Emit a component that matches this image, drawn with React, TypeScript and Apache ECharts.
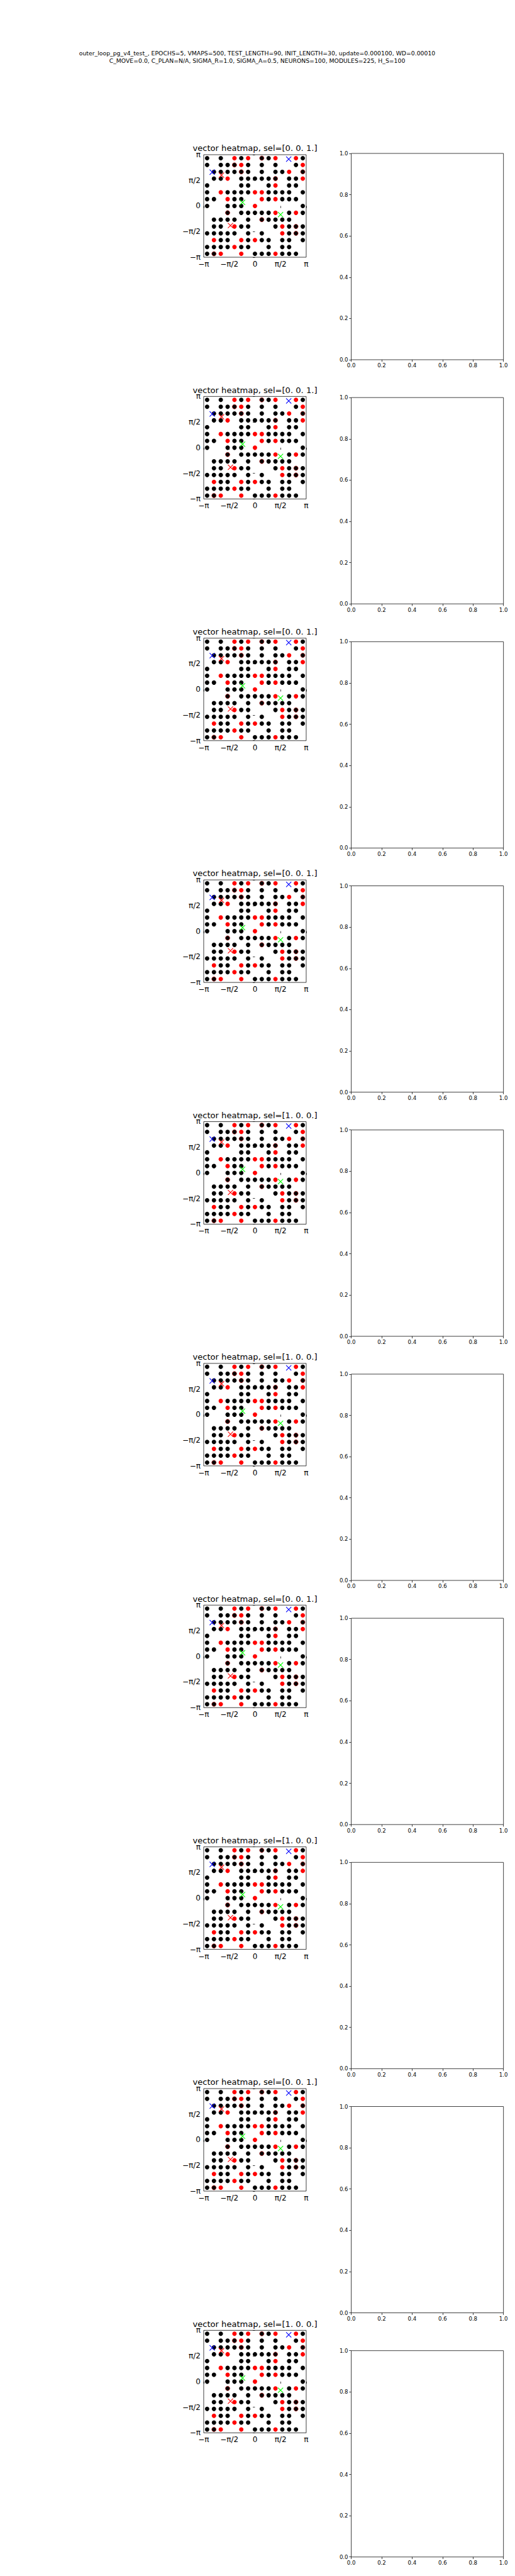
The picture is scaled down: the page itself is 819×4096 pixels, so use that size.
import React, { useEffect, useRef } from "react";
import * as echarts from "echarts";

// ---------- data ----------
const SUPTITLE_LINES = [
  "outer_loop_pg_v4_test_, EPOCHS=5, VMAPS=500, TEST_LENGTH=90, INIT_LENGTH=30, update=0.000100, WD=0.00010",
  "C_MOVE=0.0, C_PLAN=N/A, SIGMA_R=1.0, SIGMA_A=0.5, NEURONS=100, MODULES=225, H_S=100",
];

const SEL_LABELS = [
  "[0. 0. 1.]", "[0. 0. 1.]", "[0. 0. 1.]", "[0. 0. 1.]", "[1. 0. 0.]",
  "[1. 0. 0.]", "[0. 0. 1.]", "[1. 0. 0.]", "[0. 0. 1.]", "[1. 0. 0.]",
];

// 15x15 module grid, rows from top (y = +pi) to bottom (y = -pi), columns from x = -pi to +pi.
// K = black dot, R = red dot, D = black dot over red, . = empty
const GRID_ROWS = [
  "K.K.RKR.DKR..RK",
  "K.KKDRK.K.K..KR",
  ".KKKKDK.K.KKR.D",
  ".KKR.KKKKKD.KKR",
  "K....KK..KR.KK.",
  "K.RKKKKRRKKKK.K",
  "KK.RKK..RKRKKK.",
  "K..KKK.R......K",
  "...D.KKKKKR.KRK",
  ".KKKK.K.DKKKK..",
  ".KK.RKK...KRKDK",
  "KKKKK.K.K..RKDK",
  ".RKK.RKRKK.KK.K",
  "KKKKRKK..K.KK..",
  "KDR..R.KKKRKKK.",
];

const BLUE_X = [[2.07, 2.87], [-2.62, 2.07]];
const RED_X = [[-2.05, 1.89], [-1.5, -1.2]];
const GREEN_X = [[-0.76, 0.22], [1.57, -0.53]];

const PI_TICK_LABELS = ["\u2212\u03c0", "\u2212\u03c0/2", "0", "\u03c0/2", "\u03c0"];
const UNIT_TICK_LABELS = ["0.0", "0.2", "0.4", "0.6", "0.8", "1.0"];

// ---------- layout ----------
const S = 0.682;
const FONT = "DejaVu Sans";
const L_X = 475 * S;
const L_SIZE = 239 * S;
const L_TOP0 = 360.7 * S;
const L_STEP = 563.6 * S;
const R_X = 819 * S;
const R_W = 355 * S;
const R_TOP0 = 357.7 * S;
const R_H = 481 * S;
const R_STEP = 569.2 * S;
const N = 15;

function cellPoints(kind: string): number[][] {
  const pts: number[][] = [];
  const w = (2 * Math.PI) / N;
  GRID_ROWS.forEach((row, r) => {
    for (let c = 0; c < row.length; c++) {
      if (row[c] === kind) {
        pts.push([-Math.PI + (c + 0.5) * w, Math.PI - (r + 0.5) * w]);
      }
    }
  });
  return pts;
}

function buildOption() {
  const grids: any[] = [];
  const xAxes: any[] = [];
  const yAxes: any[] = [];
  const series: any[] = [];
  const graphics: any[] = [];

  const black = cellPoints("K");
  const dark = cellPoints("D");
  const red = cellPoints("R");

  const tickCommon = { show: true, length: 3.3, inside: false, lineStyle: { color: "#000", width: 0.75 } };
  const piLabel = (fs: number) => ({
    show: true,
    color: "#000",
    fontSize: fs,
    fontFamily: FONT,
    margin: 5,
    formatter: (v: number) => {
      const k = Math.round(v / (Math.PI / 2)) + 2;
      return PI_TICK_LABELS[k] ?? "";
    },
  });
  const unitLabel = {
    show: true,
    color: "#000",
    fontSize: 8.6,
    fontFamily: FONT,
    margin: 5,
    formatter: (v: number) => {
      const k = Math.round(v / 0.2);
      return UNIT_TICK_LABELS[k] ?? "";
    },
  };

  graphics.push({
    type: "text",
    x: 409,
    y: 90.5,
    style: {
      text: SUPTITLE_LINES.join("\n"),
      fontSize: 9.3,
      fontFamily: FONT,
      fill: "#000",
      align: "center",
      verticalAlign: "middle",
      textAlign: "center",
      textVerticalAlign: "middle",
      lineHeight: 11.2,
    },
  });

  for (let i = 0; i < SEL_LABELS.length; i++) {
    const lTop = L_TOP0 + i * L_STEP;
    const rTop = R_TOP0 + i * R_STEP;
    const gl = grids.length;
    grids.push({
      left: L_X, top: lTop, width: L_SIZE, height: L_SIZE,
      show: true, borderColor: "#000", borderWidth: 0.75, backgroundColor: "#fff",
      containLabel: false, outerBoundsMode: "none",
    });
    grids.push({
      left: R_X, top: rTop, width: R_W, height: R_H,
      show: true, borderColor: "#000", borderWidth: 0.75, backgroundColor: "#fff",
      containLabel: false, outerBoundsMode: "none",
    });
    // left axes
    xAxes.push({
      type: "value", gridIndex: gl, min: -Math.PI, max: Math.PI, interval: Math.PI / 2,
      axisLine: { show: false }, axisTick: tickCommon, splitLine: { show: false },
      axisLabel: piLabel(12),
    });
    yAxes.push({
      type: "value", gridIndex: gl, min: -Math.PI, max: Math.PI, interval: Math.PI / 2,
      axisLine: { show: false }, axisTick: tickCommon, splitLine: { show: false },
      axisLabel: piLabel(12),
    });
    // right axes
    xAxes.push({
      type: "value", gridIndex: gl + 1, min: 0, max: 1, interval: 0.2,
      axisLine: { show: false }, axisTick: tickCommon, splitLine: { show: false },
      axisLabel: unitLabel,
    });
    yAxes.push({
      type: "value", gridIndex: gl + 1, min: 0, max: 1, interval: 0.2,
      axisLine: { show: false }, axisTick: tickCommon, splitLine: { show: false },
      axisLabel: unitLabel,
    });

    const ax = { xAxisIndex: gl, yAxisIndex: gl };
    series.push({
      type: "scatter", ...ax, data: red, symbol: "circle", symbolSize: 7, clip: false, silent: true,
      itemStyle: { color: "#ff0000", opacity: 1 },
    });
    series.push({
      type: "scatter", ...ax, data: dark, symbol: "circle", symbolSize: 7, clip: false, silent: true,
      itemStyle: { color: "#0a0000", borderColor: "#b00000", borderWidth: 0.6, opacity: 1 },
    });
    series.push({
      type: "scatter", ...ax, data: black, symbol: "circle", symbolSize: 7, clip: false, silent: true,
      itemStyle: { color: "#000000", opacity: 1 },
    });
    const xSym = "path://M0 0L10 10M10 0L0 10";
    const xMarks: [number[][], string][] = [[BLUE_X, "#0000ff"], [RED_X, "#ff0000"], [GREEN_X, "#00ff00"]];
    xMarks.forEach(([d, col]) => {
      series.push({
        type: "scatter", ...ax, data: d, symbol: xSym, symbolSize: 8.2, clip: false, silent: true,
        itemStyle: { color: "rgba(0,0,0,0)", borderColor: col, borderWidth: 1.1, opacity: 1 },
      });
    });

    graphics.push({
      type: "text",
      x: L_X + L_SIZE / 2,
      y: lTop - 10.2,
      style: {
        text: "vector heatmap, sel=" + SEL_LABELS[i],
        fontSize: 13.1,
        fontFamily: FONT,
        fill: "#000",
        align: "center",
        verticalAlign: "middle",
        textAlign: "center",
        textVerticalAlign: "middle",
      },
    });
  }

  return {
    animation: false,
    backgroundColor: "#fff",
    grid: grids,
    xAxis: xAxes,
    yAxis: yAxes,
    series,
    graphic: graphics,
  };
}

export default function App() {
  const ref = useRef<HTMLDivElement>(null);
  useEffect(() => {
    if (!ref.current) return;
    const chart = echarts.init(ref.current, undefined, { renderer: "svg" });
    chart.setOption(buildOption() as any);
    return () => chart.dispose();
  }, []);
  return (
    <div
      ref={ref}
      style={{ position: "absolute", left: 0, top: 0, width: 819, height: 4096, background: "#fff" }}
    />
  );
}
